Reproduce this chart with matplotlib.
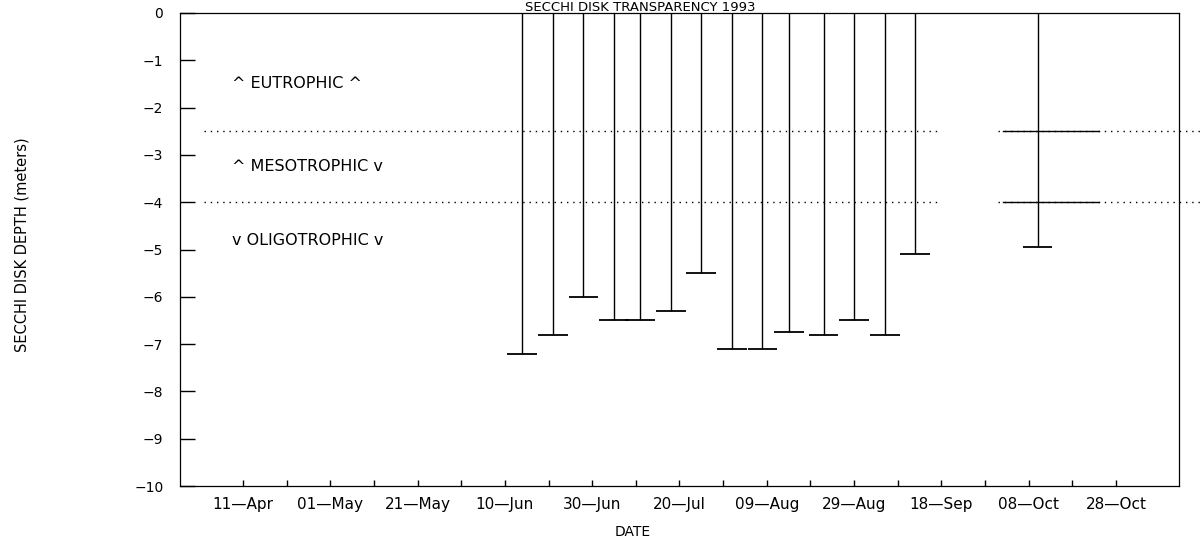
import numpy as np
import pandas as pd
import matplotlib
matplotlib.use('Agg')
import matplotlib.pyplot as plt
import matplotlib.dates as mdates

# secchi disk readings 1993 (depth in meters, negative = below surface)
sample_dates = ['1993-06-14', '1993-06-21', '1993-06-28', '1993-07-05',
                '1993-07-11', '1993-07-18', '1993-07-25', '1993-08-01',
                '1993-08-08', '1993-08-14', '1993-08-22', '1993-08-29',
                '1993-09-05', '1993-09-12', '1993-10-10']
depth = [-7.2, -6.8, -6.0, -6.5, -6.5, -6.3, -5.5, -7.1,
         -7.1, -6.75, -6.8, -6.5, -6.8, -5.1, -4.95]

# trophic state boundaries
boundaries = [-2.5, -4.0]
zone_labels = ['^ EUTROPHIC ^', '^ MESOTROPHIC v', 'v OLIGOTROPHIC v']
zone_y = [-1.5, -3.25, -4.8]

# x axis ticks every 10 days, labels every 20
first_tick = '1993-04-11'
last_tick = '1993-10-28'
tick_labels = ['11—Apr', '01—May', '21—May', '10—Jun', '30—Jun', '20—Jul',
               '09—Aug', '29—Aug', '18—Sep', '08—Oct', '28—Oct']

x = mdates.date2num(pd.to_datetime(sample_dates))
d = np.array(depth)

fig = plt.figure(figsize=(12.04, 5.4), dpi=100)
ax = fig.add_axes([180/1204, 1-486/540, (1179-180)/1204, (486-13)/540])

# bars from surface down to reading, with a cap at the bottom
ax.vlines(x, d, 0, color='black', lw=1.0)
ax.hlines(d, x-3.4, x+3.4, color='black', lw=1.3)

# boundary lines (two segments, the second one runs past the frame)
t0 = mdates.date2num(pd.Timestamp(first_tick))
seg1 = mdates.date2num(pd.to_datetime(['1993-04-02', '1993-09-18']))
seg2 = mdates.date2num(pd.to_datetime(['1993-10-01', '1993-11-18']))
seg2_solid = mdates.date2num(pd.to_datetime(['1993-10-02', '1993-10-24']))
for b in boundaries:
    ax.plot(seg1, [b, b], color='black', lw=1.0, ls=(0, (1, 3.5)))
    ax.plot(seg2, [b, b], color='black', lw=1.0, ls=(0, (1, 3.5)),
            clip_on=False)
    ax.plot(seg2_solid, [b, b], color='black', lw=1.0)

for lab, yy in zip(zone_labels, zone_y):
    ax.text(t0 - 2.5, yy, lab, fontsize=11.5, ha='left', va='center')

ax.set_ylim(-10, 0)
ax.set_xlim(t0 - 14.4, t0 + 214.4)

ax.set_yticks(np.arange(0, -11, -1))
ax.tick_params(axis='y', direction='in', length=10.8, width=1.0,
               pad=12, labelsize=10)

ticks = t0 + np.arange(0, 201, 10)
ax.set_xticks(ticks)
labs = []
for i in range(len(ticks)):
    labs.append(tick_labels[i//2] if i % 2 == 0 else '')
ax.set_xticklabels(labs)
ax.tick_params(axis='x', direction='in', length=4, width=1.0,
               pad=8, labelsize=11)

for s in ax.spines.values():
    s.set_linewidth(0.9)

fig.text(640/1204, 1-1/540, 'SECCHI DISK TRANSPARENCY 1993',
         ha='center', va='top', fontsize=9.5)
fig.text(22/1204, 1-245/540, 'SECCHI DISK DEPTH (meters)', rotation=90,
         ha='center', va='center', fontsize=10.5)
fig.text(633/1204, 1-532/540, 'DATE', ha='center', va='center', fontsize=10)

fig.savefig('out.png', dpi=100)
